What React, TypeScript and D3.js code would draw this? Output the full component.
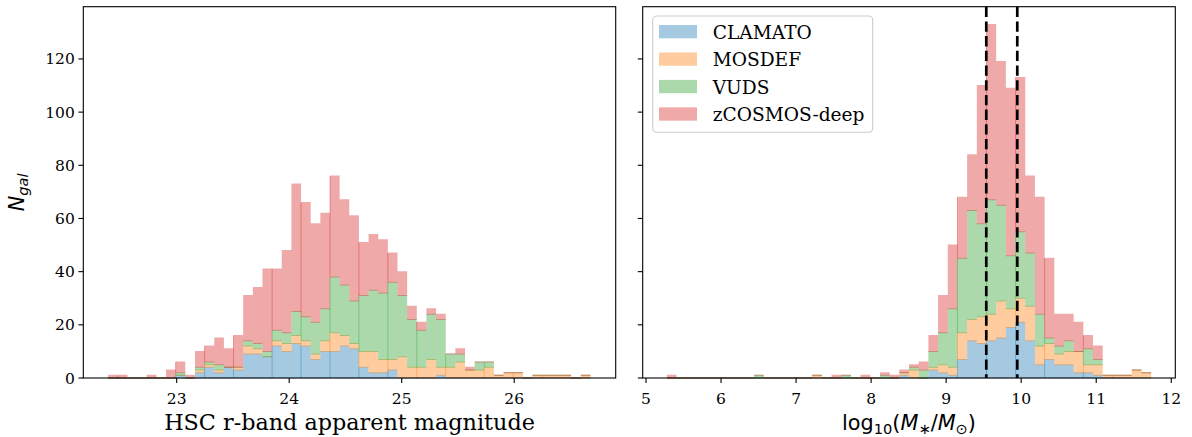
import React from "react";
import * as d3 from "d3";

// survey names, stacking order bottom -> top
const SERIES = ["CLAMATO", "MOSDEF", "VUDS", "zCOSMOS-deep"];
const COLORS = ["#1f77b4", "#ff7f0e", "#2ca02c", "#d62728"];

// left panel: HSC r-band magnitude, 50 bins over this range
const MAG_RANGE = [22.391, 26.677];
const MAG_CLAMATO = [0, 0, 0, 0, 0, 0, 0, 1, 0, 2, 4, 2, 4, 3, 9, 9, 8, 12, 10, 13, 12, 7, 10, 10, 12, 11, 4, 2, 2, 3, 0, 0, 0, 0, 1, 0, 0, 0, 0, 0, 0, 0, 0, 0, 0, 0, 0, 0, 0, 0];
const MAG_MOSDEF = [0, 0, 0, 0, 0, 0, 0, 0, 0, 1, 1, 1, 0, 1, 3, 2, 0, 2, 3, 3, 2, 2, 4, 7, 4, 2, 6, 8, 5, 4, 8, 4, 4, 7, 3, 4, 6, 3, 3, 4, 1, 2, 2, 0, 1, 1, 1, 1, 0, 1];
const MAG_VUDS = [0, 0, 0, 0, 0, 0, 0, 1, 0, 1, 1, 2, 0, 0, 2, 2, 2, 4, 4, 9, 9, 12, 12, 21, 19, 16, 21, 23, 25, 29, 23, 18, 14, 17, 18, 5, 3, 0, 3, 2, 0, 0, 0, 0, 0, 0, 0, 0, 0, 0];
const MAG_ZCOSMOS = [1, 1, 0, 0, 1, 0, 3, 4, 1, 6, 6, 10, 7, 12, 17, 21, 31, 23, 31, 48, 43, 37, 36, 38, 32, 32, 20, 21, 20, 11, 9, 5, 3, 2, 2, 0, 2, 1, 0, 0, 0, 0, 0, 0, 0, 0, 0, 0, 0, 0];
const MAG_TICKS = [23, 24, 25, 26];
const MAG_SEAMS = [1, 7, 10, 13, 17, 20, 23, 26, 29, 32, 35, 39, 42, 45];

// right panel: stellar mass, 50 bins over this range
const MASS_RANGE = [5.279, 11.732];
const MASS_CLAMATO = [0, 0, 0, 0, 0, 0, 0, 0, 0, 0, 0, 0, 0, 0, 0, 0, 0, 0, 0, 0, 0, 0, 0, 0, 1, 0, 0, 3, 2, 1, 7, 14, 13, 14, 15, 19, 21, 14, 5, 7, 5, 5, 2, 2, 1, 0, 0, 0, 0, 0];
const MASS_MOSDEF = [0, 0, 0, 0, 0, 0, 0, 0, 0, 0, 0, 0, 0, 0, 0, 1, 0, 0, 0, 0, 0, 0, 0, 0, 1, 3, 0, 1, 3, 3, 10, 8, 10, 10, 14, 7, 9, 13, 7, 6, 4, 5, 8, 3, 4, 1, 1, 1, 3, 2];
const MASS_VUDS = [0, 0, 0, 0, 0, 0, 0, 0, 0, 1, 0, 0, 0, 0, 0, 0, 0, 0, 1, 0, 0, 0, 1, 0, 0, 1, 3, 6, 12, 22, 28, 41, 35, 43, 36, 20, 25, 20, 12, 2, 3, 4, 0, 6, 2, 0, 0, 0, 0, 0];
const MASS_ZCOSMOS = [1, 0, 0, 0, 0, 0, 0, 0, 0, 0, 0, 0, 0, 0, 0, 0, 0, 1, 0, 0, 1, 0, 1, 1, 1, 1, 3, 6, 14, 24, 23, 21, 52, 66, 54, 63, 58, 29, 44, 30, 12, 10, 11, 5, 5, 0, 0, 0, 0, 0];
const MASS_TICKS = [5, 6, 7, 8, 9, 10, 11, 12];
const MASS_SEAMS = [30, 33, 36, 39, 43, 46];
const MASS_LINES = [9.535, 9.948];

const Y_TICKS = [0, 20, 40, 60, 80, 100, 120];
const Y_MAX = 139.65;

const TOP = 6.7;
const BOTTOM = 378;
const SERIF = "'DejaVu Serif', serif";
const SANS = "'DejaVu Sans', sans-serif";

const yScale = d3.scaleLinear().domain([0, Y_MAX]).range([BOTTOM, TOP]);

type PanelProps = {
  left: number;
  right: number;
  xDomain: [number, number];
  range: number[];
  series: number[][];
  ticks: number[];
  seams: number[];
  showYLabels: boolean;
  vlines?: number[];
};

function Panel({ left, right, xDomain, range, series, ticks, seams, showYLabels, vlines = [] }: PanelProps) {
  const x = d3.scaleLinear().domain(xDomain).range([left, right]);
  const nBins = series[0].length;
  const edges = d3.range(nBins + 1).map((i) => range[0] + ((range[1] - range[0]) * i) / nBins);

  // cumulative stacking
  const stacked: { lo: number[]; hi: number[] }[] = [];
  let base = new Array(nBins).fill(0);
  series.forEach((vals) => {
    const hi = vals.map((v, i) => base[i] + v);
    stacked.push({ lo: base, hi });
    base = hi;
  });

  const area = d3
    .area<number>()
    .curve(d3.curveStepAfter)
    .x((i) => x(edges[i]));

  return (
    <g>
      {stacked.map((layer, li) => {
        const idx = d3.range(nBins + 1);
        const pick = (arr: number[], i: number) => arr[Math.min(i, nBins - 1)];
        const d =
          area
            .y0((i) => yScale(pick(layer.lo, i)) + 0.5)
            .y1((i) => yScale(pick(layer.hi, i)) - 0.5)(idx) || "";
        return <path key={li} d={d} fill={COLORS[li]} fillOpacity={0.4} stroke="none" />;
      })}
      {stacked.map((layer, li) =>
        seams
          .filter((k) => layer.hi[k] > layer.lo[k])
          .map((k) => (
            <line
              key={`s${li}-${k}`}
              x1={x(edges[k])}
              x2={x(edges[k])}
              y1={yScale(layer.hi[k])}
              y2={yScale(layer.lo[k])}
              stroke={COLORS[li]}
              strokeOpacity={0.4}
              strokeWidth={1}
            />
          ))
      )}
      {vlines.map((v) => (
        <line
          key={v}
          x1={x(v)}
          x2={x(v)}
          y1={TOP}
          y2={BOTTOM}
          stroke="#000"
          strokeWidth={2.7}
          strokeDasharray="10.3,4.4"
        />
      ))}
      <rect x={left} y={TOP} width={right - left} height={BOTTOM - TOP} fill="none" stroke="#000" strokeWidth={1.1} />
      {ticks.map((t) => (
        <g key={t}>
          <line x1={x(t)} x2={x(t)} y1={BOTTOM} y2={BOTTOM + 4.9} stroke="#000" strokeWidth={1.1} />
          <text x={x(t)} y={404} textAnchor="middle" fontFamily={SERIF} fontSize={15.5} fill="#000">
            {t}
          </text>
        </g>
      ))}
      {Y_TICKS.map((t) => (
        <g key={`y${t}`}>
          <line x1={left - 4.9} x2={left} y1={yScale(t)} y2={yScale(t)} stroke="#000" strokeWidth={1.1} />
          {showYLabels && (
            <text x={left - 8.5} y={yScale(t) + 5.5} textAnchor="end" fontFamily={SERIF} fontSize={15.5} fill="#000">
              {t}
            </text>
          )}
        </g>
      ))}
    </g>
  );
}

export default function App() {
  const leftL = 83.3;
  const leftR = 615.7;
  const rightL = 642.7;
  const rightR = 1175.3;

  const legendRows = SERIES.map((name, i) => ({ name, color: COLORS[i], cy: 31.7 + i * 27.45 }));

  return (
    <svg
      width={1192}
      height={437}
      style={{ position: "absolute", left: 0, top: 0, background: "#fff" }}
    >
      <Panel
        left={leftL}
        right={leftR}
        xDomain={[22.17, 26.902]}
        range={MAG_RANGE}
        series={[MAG_CLAMATO, MAG_MOSDEF, MAG_VUDS, MAG_ZCOSMOS]}
        ticks={MAG_TICKS}
        seams={MAG_SEAMS}
        showYLabels={true}
      />
      <Panel
        left={rightL}
        right={rightR}
        xDomain={[4.956, 12.054]}
        range={MASS_RANGE}
        series={[MASS_CLAMATO, MASS_MOSDEF, MASS_VUDS, MASS_ZCOSMOS]}
        ticks={MASS_TICKS}
        seams={MASS_SEAMS}
        showYLabels={false}
        vlines={MASS_LINES}
      />

      {/* axis labels */}
      <text x={(leftL + leftR) / 2} y={430} textAnchor="middle" fontFamily={SERIF} fontSize={22.3} fill="#000">
        HSC r-band apparent magnitude
      </text>
      <text x={(rightL + rightR) / 2} y={430} textAnchor="middle" fontFamily={SANS} fontSize={20.8} fill="#000">
        <tspan>log</tspan>
        <tspan fontSize={14.6} dy={4}>10</tspan>
        <tspan dy={-4}>(</tspan>
        <tspan fontStyle="italic">M</tspan>
        <tspan fontSize={14.6} dy={4}>∗</tspan>
        <tspan dy={-4}>/</tspan>
        <tspan fontStyle="italic">M</tspan>
        <tspan fontSize={14.6} dy={4}>⊙</tspan>
        <tspan dy={-4}>)</tspan>
      </text>
      <text
        transform={`translate(24,${(TOP + BOTTOM) / 2}) rotate(-90)`}
        textAnchor="middle"
        fontFamily={SANS}
        fontSize={20.8}
        fontStyle="italic"
        fill="#000"
      >
        <tspan>N</tspan>
        <tspan fontSize={14.6} dy={4}>gal</tspan>
      </text>

      {/* legend */}
      <g>
        <rect x={652.7} y={16} width={220} height={116.3} rx={4} fill="#fff" fillOpacity={0.8} stroke="#cccccc" strokeWidth={1.1} />
        {legendRows.map((r) => (
          <g key={r.name}>
            <rect x={659} y={r.cy - 6.7} width={38} height={13.3} fill={r.color} fillOpacity={0.4} />
            <text x={712.7} y={r.cy + 7} fontFamily={SERIF} fontSize={18.6} fill="#000">
              {r.name}
            </text>
          </g>
        ))}
      </g>
    </svg>
  );
}
